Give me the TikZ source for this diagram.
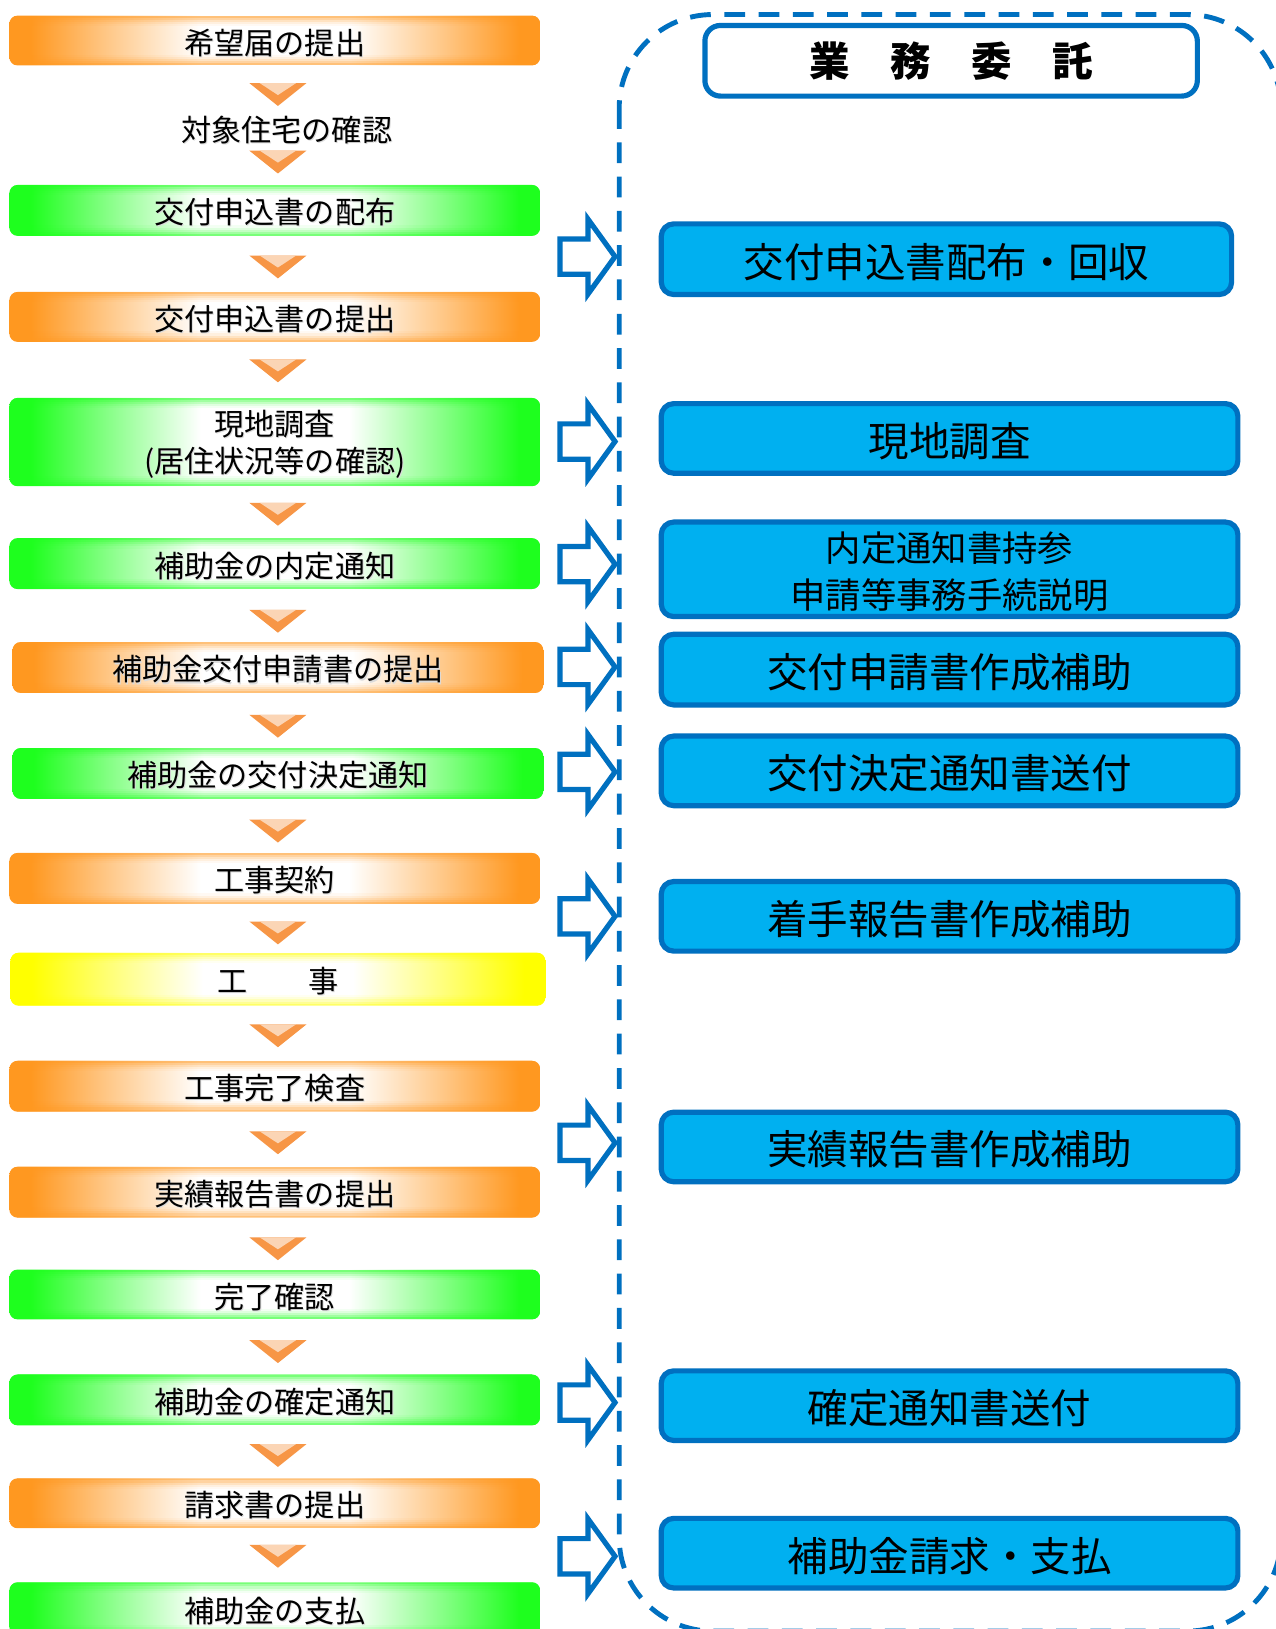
\documentclass[tikz,border=0pt]{standalone}
\usepackage{fontspec}
\newfontfamily\jp{Noto Sans CJK JP}
\definecolor{orA}{RGB}{255,152,32}
\definecolor{grA}{RGB}{30,255,30}
\definecolor{yeA}{RGB}{255,255,0}
\definecolor{chevD}{RGB}{247,150,70}
\definecolor{chevL}{RGB}{251,213,181}
\definecolor{bFill}{RGB}{0,176,240}
\definecolor{bDraw}{RGB}{0,112,192}
\pgfdeclarehorizontalshading{orsh}{100bp}{color(0bp)=(orA); color(27bp)=(orA); color(34bp)=(orA!55!white); color(43bp)=(white); color(57bp)=(white); color(66bp)=(orA!55!white); color(73bp)=(orA); color(100bp)=(orA)}
\pgfdeclarehorizontalshading{grsh}{100bp}{color(0bp)=(grA); color(27bp)=(grA); color(34bp)=(grA!55!white); color(43bp)=(white); color(57bp)=(white); color(66bp)=(grA!55!white); color(73bp)=(grA); color(100bp)=(grA)}
\pgfdeclarehorizontalshading{yesh}{100bp}{color(0bp)=(yeA); color(27bp)=(yeA); color(34bp)=(yeA!55!white); color(43bp)=(white); color(57bp)=(white); color(66bp)=(yeA!55!white); color(73bp)=(yeA); color(100bp)=(yeA)}
\tikzset{
  leftstep/.style={rectangle, inner sep=0pt, text=black,
    font=\jp\fontsize{29}{35}\selectfont, align=center},
  rightframe/.style={rounded corners=12pt, draw=bDraw, fill=bFill, line width=5pt},
  rightstep/.style={rectangle, inner sep=0pt, text=black, font=\jp\fontsize{39}{45}\selectfont, align=center},
  headbox/.style={rectangle, rounded corners=15pt, draw=bDraw, fill=white,
    line width=5pt, inner sep=0pt, text=black, font=\jp\bfseries\fontsize{39}{45}\selectfont},
  hollowarrow/.style={draw=bDraw, fill=white, line width=5pt, line join=miter},
  dashframe/.style={draw=bDraw, line width=4.7pt, dash pattern=on 20pt off 13pt, rounded corners=90pt},
  textshadow/.style={leftstep, text=black!14},
}
% \LeftStep{name}{x1}{y1}{x2}{y2}{colour key: or/gr/ye}{text}
\newcommand{\LeftStep}[7]{%
  \begin{scope}
    \clip[rounded corners=8pt] (#2,#3) rectangle (#4,#5);
    \path[shading=#6sh] (#2,#3) rectangle (#4,#5);
    \foreach \d/\o in {0/0.6,2/0.42,4/0.27,6/0.14,8/0.05}{
      \fill[#6A, fill opacity=\o] (#2,#3+\d) rectangle (#4,#3+\d+2);
      \fill[#6A, fill opacity=\o] (#2,#5-\d-2) rectangle (#4,#5-\d);
    }
  \end{scope}
  \node[textshadow] at ({(#2+#4)/2+1},{(#3+#5)/2+3}) {#7};
  \node[leftstep, minimum width={(#4-#2)*1pt}, minimum height={(#5-#3)*1pt}]
    (#1) at ({(#2+#4)/2},{(#3+#5)/2+2}) {#7};}
% \RightStep{name}{x1}{y1}{x2}{y2}{text}
\newcommand{\RightStep}[6]{%
  \path[rightframe] (#2+2.5,#3+2.5) rectangle (#4-2.5,#5-2.5);
  \node[rightstep, minimum width={(#4-#2-5)*1pt}, minimum height={(#5-#3-5)*1pt}]
    (#1) at ({(#2+#4)/2},{(#3+#5)/2+2.5}) {#6};}
% chevron with top edge at y
\newcommand{\Chev}[1]{%
  \fill[chevD] (240,#1) -- (295,#1) -- (267.5,#1+22) -- cycle;
  \fill[chevL] (250,#1) -- (285,#1) -- (267.5,#1+11.5) -- cycle;}
% hollow arrow centred at y
\newcommand{\HArrow}[1]{%
  \draw[hollowarrow] (539,#1-17) -- (566,#1-17) -- (566,#1-36) -- (592,#1)
     -- (566,#1+36) -- (566,#1+17) -- (539,#1+17) -- cycle;}
\begin{document}
\begin{tikzpicture}[x=1pt,y=-1pt]
\useasboundingbox (0,0) rectangle (1228,1568);
\clip (0,0) rectangle (1228,1568);
\fill[white] (0,0) rectangle (1228,1568);

% left column
\LeftStep{s1}{9}{15}{520}{63}{or}{希望届の提出}
\node[textshadow] at (277,126) {対象住宅の確認};
\node[leftstep] (s2) at (276,125) {対象住宅の確認};
\LeftStep{s3}{9}{178}{520}{227}{gr}{交付申込書の配布}
\LeftStep{s4}{9}{281}{520}{329}{or}{交付申込書の提出}
\LeftStep{s5}{9}{383}{520}{468}{gr}{現地調査\\(居住状況等の確認)}
\LeftStep{s6}{9}{518}{520}{567}{gr}{補助金の内定通知}
\LeftStep{s7}{12}{618}{523}{667}{or}{補助金交付申請書の提出}
\LeftStep{s8}{12}{720}{523}{769}{gr}{補助金の交付決定通知}
\LeftStep{s9}{9}{821}{520}{870}{or}{工事契約}
\LeftStep{s10}{10}{917}{525}{968}{ye}{工　　事}
\LeftStep{s11}{9}{1021}{520}{1070}{or}{工事完了検査}
\LeftStep{s12}{9}{1123}{520}{1172}{or}{実績報告書の提出}
\LeftStep{s13}{9}{1222}{520}{1270}{gr}{完了確認}
\LeftStep{s14}{9}{1323}{520}{1372}{gr}{補助金の確定通知}
\LeftStep{s15}{9}{1423}{520}{1471}{or}{請求書の提出}
\LeftStep{s16}{9}{1523}{520}{1574}{gr}{補助金の支払}

% chevrons
\Chev{80}
\Chev{145}
\Chev{246}
\Chev{346}
\Chev{484}
\Chev{587}
\Chev{688}
\Chev{789}
\Chev{887}
\Chev{986}
\Chev{1089}
\Chev{1191}
\Chev{1290}
\Chev{1390}
\Chev{1487}

% right column
\node[headbox, minimum width=474pt, minimum height=68pt] (head) at (915.5,58.5) {業　務　委　託};
\RightStep{r1}{634}{213}{1188}{286}{交付申込書配布・回収}
\RightStep{r2}{634}{386}{1194}{458}{現地調査}
\RightStep{r3}{634}{500}{1194}{596}{\fontsize{34}{42}\selectfont 内定通知書持参\\\fontsize{34}{42}\selectfont 申請等事務手続説明}
\RightStep{r4}{634}{608}{1194}{681}{交付申請書作成補助}
\RightStep{r5}{634}{706}{1194}{778}{交付決定通知書送付}
\RightStep{r6}{634}{846}{1194}{918}{着手報告書作成補助}
\RightStep{r7}{634}{1068}{1194}{1140}{実績報告書作成補助}
\RightStep{r8}{634}{1317}{1194}{1389}{確定通知書送付}
\RightStep{r9}{634}{1459}{1194}{1531}{補助金請求・支払}

% hollow arrows
\HArrow{247}
\HArrow{425}
\HArrow{543}
\HArrow{642}
\HArrow{743}
\HArrow{882}
\HArrow{1100}
\HArrow{1350}
\HArrow{1498}

% dashed frame
\draw[dashframe] (596,14) rectangle (1233,1570);
\end{tikzpicture}
\end{document}
